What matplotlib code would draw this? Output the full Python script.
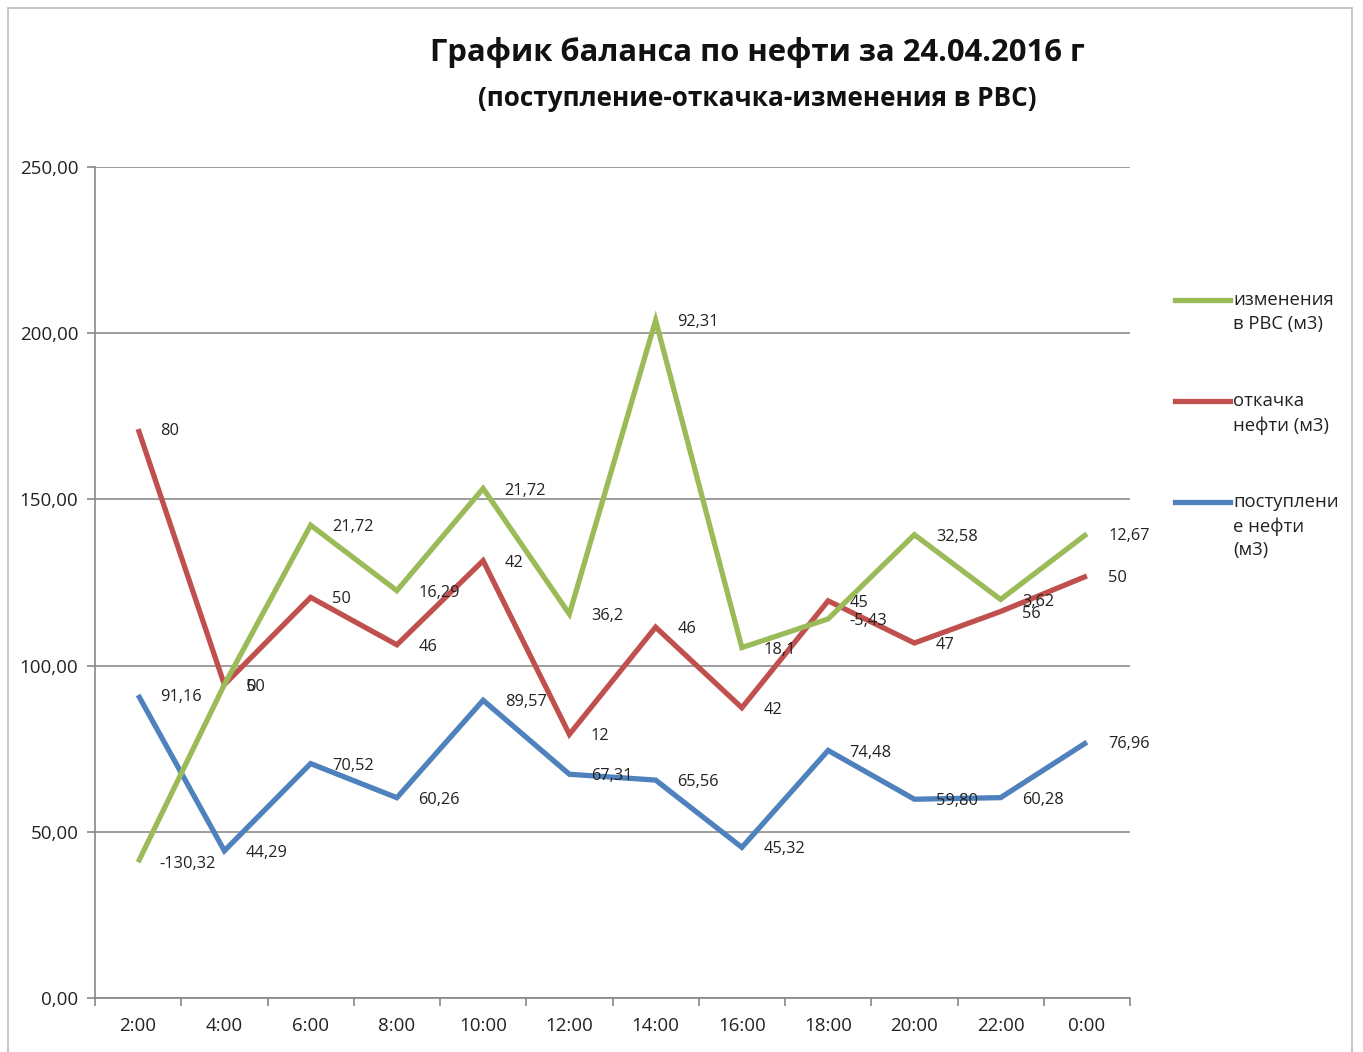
import matplotlib
matplotlib.use('Agg')
import matplotlib.pyplot as plt
import numpy as np
from matplotlib.lines import Line2D
from matplotlib.patches import Rectangle

# ---------------- data ----------------
hours = ['2:00', '4:00', '6:00', '8:00', '10:00', '12:00', '14:00',
         '16:00', '18:00', '20:00', '22:00', '0:00']
inflow = [91.16, 44.29, 70.52, 60.26, 89.57, 67.31, 65.56, 45.32, 74.48, 59.80, 60.28, 76.96]
outflow = [80, 50, 50, 46, 42, 12, 46, 42, 45, 47, 56, 50]
change = [-130.32, 0, 21.72, 16.29, 21.72, 36.2, 92.31, 18.1, -5.43, 32.58, 3.62, 12.67]
y_ticks = [0, 50, 100, 150, 200, 250]
series_names = ['поступлени\nе нефти\n(м3)', 'откачка\nнефти (м3)', 'изменения\nв РВС (м3)']
title = 'График баланса по нефти за 24.04.2016 г'
subtitle = '(поступление-откачка-изменения в РВС)'

colors = ['#4F81BD', '#C0504D', '#9BBB59']

plt.rcParams['font.family'] = ['Open Sans', 'DejaVu Sans']

fig = plt.figure(figsize=(13.63, 10.52), dpi=100)
W, H = 1363, 1052
ax = fig.add_axes([95 / W, 1 - 998 / H, (1130 - 95) / W, (998 - 167) / H])

x = np.arange(len(hours))
s1 = np.array(inflow)
s2 = s1 + np.array(outflow)
s3 = s2 + np.array(change)
stacked = [s1, s2, s3]
raw = [inflow, outflow, change]


def fmt(v, i):
    if i == 0:
        return f'{v:.2f}'.replace('.', ',')
    return f'{v:g}'.replace('.', ',')


for i in range(3):
    ax.plot(x, stacked[i], color=colors[i], lw=3.8, solid_joinstyle='miter',
            solid_capstyle='butt', zorder=3 + i)
for i in range(3):
    for xi, yi, v in zip(x, stacked[i], raw[i]):
        ax.annotate(fmt(v, i), (xi, yi), xytext=(15.5, -1.5), textcoords='offset points',
                    ha='left', va='center', fontsize=11.8, color='#222222', zorder=10)

ax.set_xlim(-0.5, len(hours) - 0.5)
ax.set_ylim(0, 250)
ax.set_yticks(y_ticks)
ax.set_yticklabels([f'{t:.2f}'.replace('.', ',') for t in y_ticks], fontsize=13.5, color='#222222')
ax.set_xticks(x)
ax.set_xticklabels(hours, fontsize=13.5, color='#222222')
ax.set_xticks(np.arange(-0.5, len(hours)), minor=True)
ax.tick_params(axis='x', which='major', length=0, pad=14)
ax.tick_params(axis='x', which='minor', length=6, color='#888888', width=1.2, direction='out')
ax.tick_params(axis='y', length=6, color='#888888', width=1.2, direction='out', pad=6)

ax.grid(axis='y', color='#8c8c8c', lw=1.2, zorder=0)
for sp in ['top', 'right']:
    ax.spines[sp].set_visible(False)
ax.spines['left'].set_color('#888888')
ax.spines['bottom'].set_color('#888888')
ax.spines['left'].set_linewidth(1.2)
ax.spines['bottom'].set_linewidth(1.2)

# title
fig.text(757 / W, 1 - 52 / H, title, ha='center', va='center', fontsize=22.3,
         fontweight='bold', color='#111111')
fig.text(757 / W, 1 - 99 / H, subtitle, ha='center', va='center', fontsize=18.8,
         fontweight='bold', color='#111111')

# legend (top entry = last series)
leg_y = [300, 401, 502]
order = [2, 1, 0]
for yy, i in zip(leg_y, order):
    fig.add_artist(Line2D([1175 / W, 1230 / W], [1 - yy / H, 1 - yy / H],
                          color=colors[i], lw=3.8, transform=fig.transFigure))
    fig.text(1233 / W, 1 - (yy - 9) / H, series_names[i], ha='left', va='top',
             fontsize=13.3, color='#222222', linespacing=1.42)

# chart border
fig.add_artist(Rectangle((8 / W, -0.02), (1352 - 8) / W, 1.02 - 8 / H,
                         transform=fig.transFigure, fill=False, edgecolor='#bbbbbb', lw=1.2))

fig.savefig('out.png', dpi=100, facecolor='white')
